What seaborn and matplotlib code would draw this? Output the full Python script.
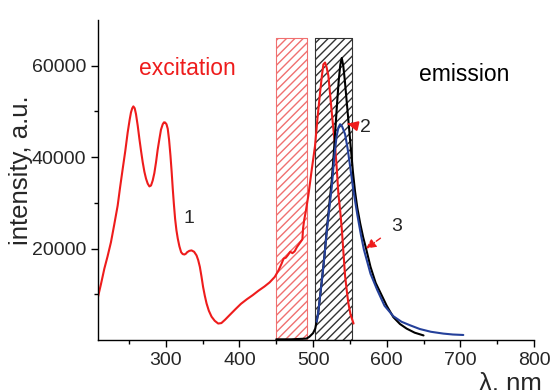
import matplotlib
matplotlib.use('Agg')
import matplotlib.pyplot as plt
import pandas as pd
import seaborn as sns

# excitation spectrum (curve 1, red): (wavelength nm, intensity)
exc = [(207.5, 9100), (212, 12200), (216.6, 15600), (221, 18300), (225.6, 21400), (230, 25200),
       (234.7, 29400), (238, 33400), (241.5, 37400), (245, 41300), (248.3, 45400), (251, 48200),
       (252.8, 49800), (254.5, 50700), (256, 51100), (257.8, 50700), (259.6, 49400), (262, 46800),
       (264.2, 44000), (266.5, 41300), (268.7, 38900), (271, 36800), (273.2, 35300), (275.5, 34200),
       (277.8, 33600), (280, 33800), (282.3, 34900), (284.5, 36500), (286.8, 38900), (289, 41600),
       (291.4, 44000), (293.5, 46000), (295.9, 47200), (297.5, 47600), (299, 47600), (301, 47200),
       (302.7, 46200), (304.5, 43800), (306.4, 40300), (308, 36800), (309.5, 33100), (311, 29800),
       (312.7, 26500), (314.5, 24000), (316.3, 22200), (318.5, 20500), (320.9, 19200), (323, 18800),
       (325.4, 18700), (327.5, 18900), (329, 19200), (332, 19500), (335, 19600), (338.5, 19300),
       (341.8, 18500), (344, 17500), (346.3, 16000), (348.5, 13900), (350.7, 11600), (353, 9700),
       (355.4, 8000), (358.5, 6400), (362.2, 5100), (366.5, 4200), (371.2, 3600), (375.5, 3700),
       (380.3, 4400), (387, 5500), (395, 6800), (402, 7900), (410, 8900), (418, 9800), (426, 10800),
       (434, 11700), (441, 12600), (448, 13800), (453, 15200), (457, 16600), (460, 17800),
       (463, 18000), (466, 18600), (469, 19300), (472, 19000), (475, 19400), (478, 20300),
       (481, 21000), (485.5, 22000), (486.5, 24500), (488, 26300), (490, 28000), (493.6, 31600),
       (498, 37000), (502.7, 42500), (506, 48500), (509.5, 54100), (512, 57800), (514, 60300),
       (516.3, 60700), (518.5, 59600), (520.8, 57800), (523, 54000), (525.4, 49800), (527.7, 46000),
       (529.9, 42500), (532, 38000), (534.4, 32000), (537, 28000), (539, 24300), (541.3, 19000),
       (543.5, 14000), (546, 10500), (548, 8000), (551, 5500), (555, 3600)]

# emission spectrum (curve 2, black)
em2 = [(450, 150), (470, 150), (491, 300), (495, 700), (500, 1500), (503, 2500), (507, 5900),
       (512, 13100), (515.5, 18500), (518.6, 24000), (522, 29500), (525.4, 34900), (528, 40500),
       (530, 45400), (532.5, 51500), (535, 57000), (537, 60200), (539, 61700), (541, 60000),
       (543, 57000), (545.5, 52500), (548, 48000), (551, 42500), (554, 37000), (557, 32500),
       (560, 29000), (564, 25500), (568, 22500), (572, 20000), (578, 16000), (585, 12500),
       (591, 10500), (600, 7500), (609, 5000), (618, 3500), (627, 2500), (638, 1600), (650, 1000)]

# emission spectrum (curve 3, blue)
em3 = [(505, 4000), (507, 6000), (512, 13000), (515.5, 18300), (518.6, 23800), (522, 28800),
       (525.4, 33500), (528, 38500), (530, 41800), (532, 44600), (534.5, 46500), (536.7, 47200),
       (538.5, 47000), (540, 46500), (543.5, 45000), (547, 41800), (550.3, 38000), (555, 32500),
       (560, 27500), (565, 23000), (569, 19800), (578, 14500), (587, 11000), (597, 7500),
       (609, 5200), (620, 4000), (632, 3200), (645, 2400), (660, 1800), (677, 1400), (690, 1200),
       (704, 1100)]

# hatched spectral windows
band_lo = [450, 502]
band_hi = [492, 553]
band_top = 66000

sns.set_style('ticks')
plt.rcParams['font.family'] = ['Liberation Sans', 'DejaVu Sans']

fig = plt.figure(figsize=(5.53, 3.90), dpi=100)
ax = fig.add_axes([98/553, 50/390, 436/553, 320/390])

# hatched boxes
ax.fill_between([band_lo[0], band_hi[0]], 0, band_top, facecolor='none',
                edgecolor='#f07070', hatch='////', linewidth=0.8, zorder=1)
ax.fill_between([band_lo[1], band_hi[1]], 0, band_top, facecolor='none',
                edgecolor='#333333', hatch='////', linewidth=0.8, zorder=1)

df1 = pd.DataFrame(exc, columns=['wl', 'I'])
df2 = pd.DataFrame(em2, columns=['wl', 'I'])
df3 = pd.DataFrame(em3, columns=['wl', 'I'])
sns.lineplot(data=df1, x='wl', y='I', ax=ax, color='#ee1c1c', linewidth=1.5, sort=False)
sns.lineplot(data=df2, x='wl', y='I', ax=ax, color='black', linewidth=1.5, sort=False)
sns.lineplot(data=df3, x='wl', y='I', ax=ax, color='#24409a', linewidth=1.5, sort=False)

ax.set_xlim(208, 800)
ax.set_ylim(0, 70000)
ax.set_xticks([300, 400, 500, 600, 700, 800])
ax.set_xticks([250, 350, 450, 550, 650, 750], minor=True)
ax.set_yticks([20000, 40000, 60000])
ax.set_yticks([10000, 30000, 50000], minor=True)
ax.tick_params(axis='both', which='major', labelsize=14, length=5, width=1, color='black')
ax.tick_params(axis='both', which='minor', length=3, width=1, color='black')
sns.despine(ax=ax)
for s in ['left', 'bottom']:
    ax.spines[s].set_color('black')
    ax.spines[s].set_linewidth(1)

ax.set_ylabel('intensity, a.u.', fontsize=18.5)
ax.yaxis.set_label_coords(-0.15, 0.53)
ax.set_xlabel('λ, nm', fontsize=18.5)
ax.xaxis.set_label_coords(0.945, -0.1)

ax.text(330, 59300, 'excitation', color='#ee1c1c', fontsize=16.5, ha='center', va='center')
ax.text(705, 58000, 'emission', color='black', fontsize=16.5, ha='center', va='center')
ax.text(331, 26600, '1', fontsize=14, ha='center', va='center')
ax.annotate('2', xy=(547, 47300), xytext=(571, 46400), fontsize=14, ha='center', va='center',
            arrowprops=dict(arrowstyle='-|>', color='#ee1c1c', lw=1.5, shrinkA=6, shrinkB=0))
ax.annotate('3', xy=(572, 20000), xytext=(614, 24900), fontsize=14, ha='center', va='center',
            arrowprops=dict(arrowstyle='-|>', color='#ee1c1c', lw=1, linestyle='--',
                            shrinkA=7, shrinkB=0))

fig.savefig('out.png', dpi=100)
